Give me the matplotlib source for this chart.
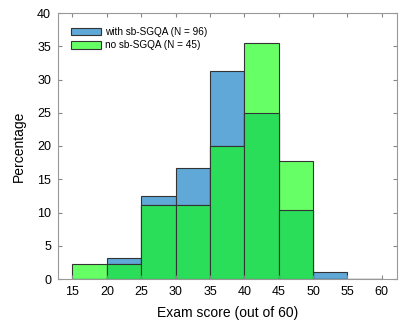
import numpy as np
import matplotlib
matplotlib.use('Agg')
import matplotlib.pyplot as plt
from matplotlib.patches import Patch

plt.rcParams['font.family'] = ['Liberation Sans', 'DejaVu Sans']

bin_edges = [15, 20, 25, 30, 35, 40, 45, 50, 55, 60]
with_pct = [0, 3.125, 12.5, 16.67, 31.25, 25.0, 10.42, 1.04, 0]
no_pct = [2.22, 2.22, 11.11, 11.11, 20.0, 35.56, 17.78, 0, 0]
labels = ['with sb-SGQA (N = 96)', 'no sb-SGQA (N = 45)']

blue = '#60a8d8'
green = '#66ff66'
overlap = '#2ade5a'
edge = '#333333'

left = np.array(bin_edges[:-1])
w = np.diff(bin_edges)
with_pct = np.array(with_pct)
no_pct = np.array(no_pct)
both = np.minimum(with_pct, no_pct)

fig = plt.figure(figsize=(4.05, 3.32), dpi=100)
ax = fig.add_axes([58/405, 1 - 279/332, (397-58)/405, (279-13)/332])

ax.bar(left, with_pct, width=w, align='edge', color=blue, edgecolor=edge, linewidth=0.8)
ax.bar(left, no_pct, width=w, align='edge', color=green, edgecolor=edge, linewidth=0.8)
ax.bar(left, both, width=w, align='edge', color=overlap, edgecolor=edge, linewidth=0.8)

ax.set_xlim(12.9, 62.2)
ax.set_ylim(0, 40)
ax.set_xticks(bin_edges)
ax.set_yticks(range(0, 41, 5))
ax.tick_params(direction='in', length=3, top=True, right=True, labelsize=9,
               color='#888888', pad=5)
for s in ax.spines.values():
    s.set_color('#999999')
ax.set_xlabel('Exam score (out of 60)', fontsize=10, labelpad=6)
ax.set_ylabel('Percentage', fontsize=10, labelpad=8)

handles = [Patch(facecolor=blue, edgecolor=edge, linewidth=0.8),
           Patch(facecolor=green, edgecolor=edge, linewidth=0.8)]
ax.legend(handles, labels, loc='upper left', frameon=False, fontsize=7.2,
          handlelength=3.0, handleheight=0.8, handletextpad=0.4,
          labelspacing=0.35, borderaxespad=0.0, borderpad=0.0,
          bbox_to_anchor=(13/339, 1 - 14/266))

fig.savefig('out.png', dpi=100)
